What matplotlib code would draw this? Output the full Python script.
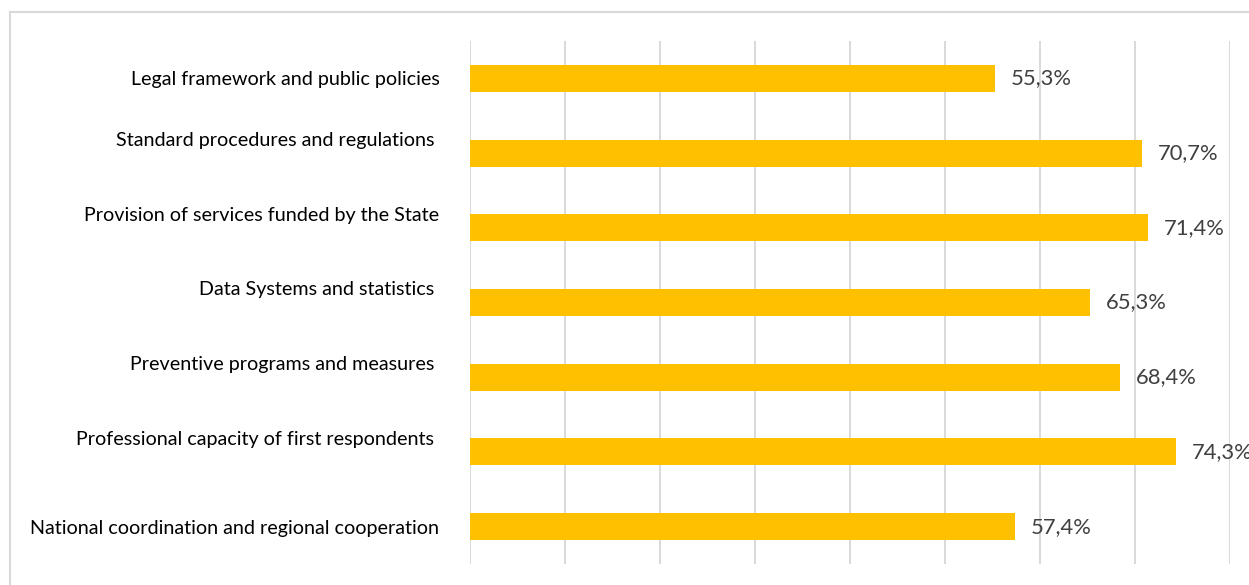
import matplotlib.pyplot as plt
import matplotlib.transforms as mtransforms
from matplotlib.lines import Line2D

# data
categories = ['Legal framework and public policies',
              'Standard procedures and regulations ',
              'Provision of services funded by the State',
              'Data Systems and statistics ',
              'Preventive programs and measures ',
              'Professional capacity of first respondents ',
              'National coordination and regional cooperation']
values = [55.3, 70.7, 71.4, 65.3, 68.4, 74.3, 57.4]
value_labels = ['55,3%', '70,7%', '71,4%', '65,3%', '68,4%', '74,3%', '57,4%']
# labels sitting a bit above their bar (as in the source sheet)
raised = [False, True, True, True, True, True, False]

plt.rcParams['font.family'] = ['Lato', 'DejaVu Sans']

fig = plt.figure(figsize=(12.49, 5.85), dpi=100)
ax = fig.add_axes([469.5 / 1249, 21 / 585, 760.5 / 1249, 523 / 585])

y = list(range(len(categories)))
ax.barh(y, values, height=0.36, color='#FFC000', zorder=2)

for yi, v, lab in zip(y, values, value_labels):
    ax.annotate(lab, (v, yi), xytext=(16, 0), textcoords='offset pixels',
                va='center', ha='left', fontsize=15.8, color='#404040',
                annotation_clip=False)

ax.set_xlim(0, 80)
ax.set_ylim(len(categories) - 0.5, -0.5)
ax.set_xticks(range(0, 81, 10))
ax.set_xticklabels([])
ax.grid(axis='x', color='#D9D9D9', linewidth=1.4, zorder=1)
ax.tick_params(length=0)
for s in ax.spines.values():
    s.set_visible(False)

ax.set_yticks(y)
ax.set_yticklabels(categories, fontsize=14.2, color='#000000')
ax.tick_params(axis='y', pad=21.6)
for lbl, up in zip(ax.get_yticklabels(), raised):
    if up:
        lbl.set_transform(lbl.get_transform() +
                          mtransforms.ScaledTranslation(0, 14 / 100, fig.dpi_scale_trans))

# outer chart border
fig.add_artist(Line2D([10 / 1249, 1.0], [1 - 12 / 585, 1 - 12 / 585],
                      color='#D9D9D9', linewidth=1.5, transform=fig.transFigure))
fig.add_artist(Line2D([10 / 1249, 10 / 1249], [0, 1 - 12 / 585],
                      color='#D9D9D9', linewidth=1.5, transform=fig.transFigure))

plt.savefig('out.png', dpi=100)
